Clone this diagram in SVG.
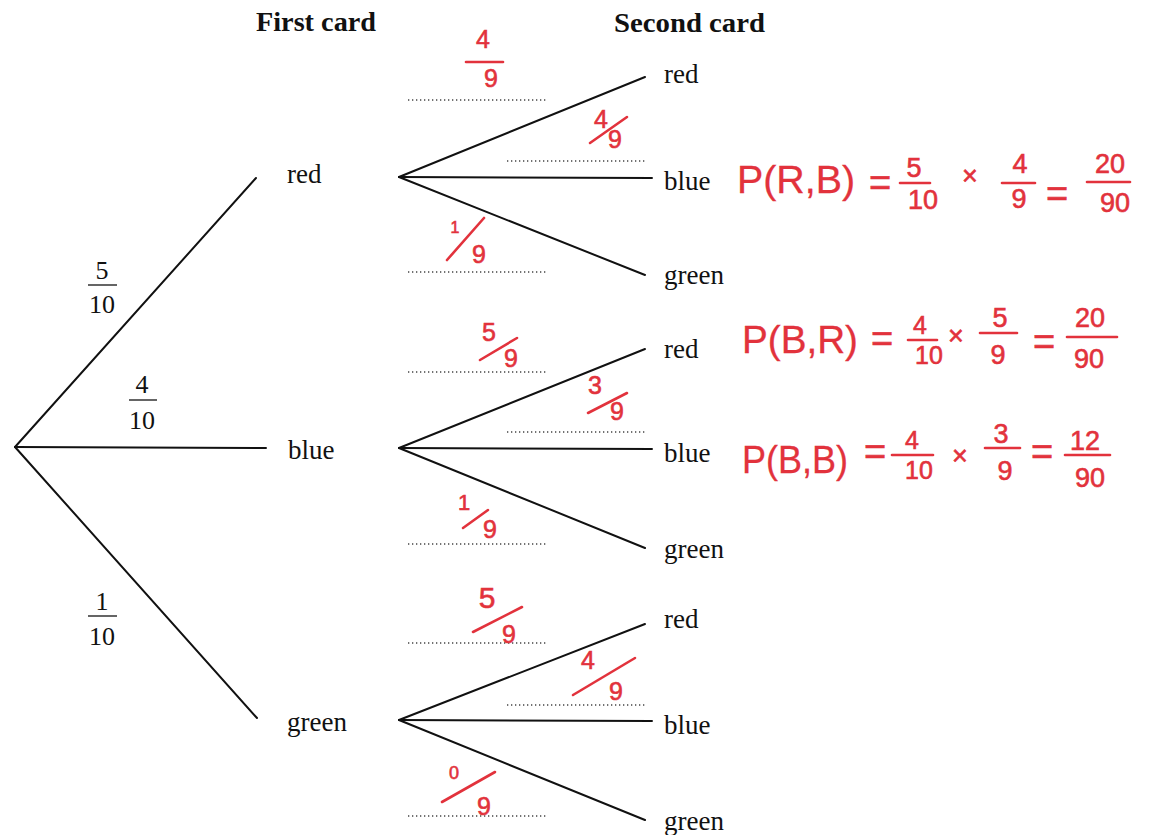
<svg xmlns="http://www.w3.org/2000/svg" width="1152" height="835" viewBox="0 0 1152 835">
<style>
.lbl{font-family:"Liberation Serif","Times New Roman",serif;font-size:27px;fill:#111}
.hdr{font-family:"Liberation Serif","Times New Roman",serif;font-size:28px;font-weight:bold;fill:#111}
.fr{font-family:"Liberation Serif","Times New Roman",serif;font-size:26px;fill:#111;text-anchor:middle}
.br{stroke:#111;stroke-width:2;fill:none;stroke-linecap:round}
.bar{stroke:#111;stroke-width:1.3}
.dot{stroke:#444;stroke-width:1.3;stroke-dasharray:1.3 2.7}
.hw{font-family:"Liberation Sans","Arial",sans-serif;fill:#e2323c;stroke:#e2323c;stroke-width:0.6;text-anchor:middle}
.d{font-size:25px}
.e{font-size:27px}
.q{font-size:38px}
.p{font-size:38px;text-anchor:start;stroke-width:0.3}
.rl{stroke:#e2323c;stroke-width:2.6;stroke-linecap:round}
</style>
<rect width="1152" height="835" fill="#fff"/>

<g id="headers">
<text class="hdr" x="256" y="31" textLength="120" lengthAdjust="spacingAndGlyphs">First card</text>
<text class="hdr" x="614" y="32" textLength="151" lengthAdjust="spacingAndGlyphs">Second card</text>
</g>

<g id="connectors">
<line class="br" x1="15" y1="447" x2="256" y2="178"/>
<line class="br" x1="15" y1="447" x2="266" y2="448"/>
<line class="br" x1="15" y1="447" x2="257" y2="718"/>
<line class="br" x1="399" y1="177" x2="645" y2="77"/>
<line class="br" x1="399" y1="177" x2="652" y2="178"/>
<line class="br" x1="399" y1="177" x2="645" y2="275"/>
<line class="br" x1="399" y1="448" x2="645" y2="349"/>
<line class="br" x1="399" y1="448" x2="652" y2="449"/>
<line class="br" x1="399" y1="448" x2="645" y2="548"/>
<line class="br" x1="399" y1="720" x2="645" y2="624"/>
<line class="br" x1="399" y1="720" x2="652" y2="721"/>
<line class="br" x1="399" y1="720" x2="645" y2="820"/>
</g>

<g id="first-probs">
<text class="fr" x="102" y="279">5</text><line class="bar" x1="88" y1="285" x2="117" y2="285"/><text class="fr" x="102" y="313">10</text>
<text class="fr" x="142" y="393">4</text><line class="bar" x1="129" y1="400" x2="157" y2="400"/><text class="fr" x="142" y="429">10</text>
<text class="fr" x="102" y="610">1</text><line class="bar" x1="88" y1="616" x2="117" y2="616"/><text class="fr" x="102" y="645">10</text>
</g>

<g id="node-red1"><text class="lbl" x="287" y="183">red</text></g>
<g id="node-blue1"><text class="lbl" x="288" y="459">blue</text></g>
<g id="node-green1"><text class="lbl" x="287" y="731">green</text></g>

<g id="node-rr"><text class="lbl" x="664" y="83">red</text></g>
<g id="node-rb"><text class="lbl" x="664" y="190">blue</text></g>
<g id="node-rg"><text class="lbl" x="664" y="284">green</text></g>
<g id="node-br"><text class="lbl" x="664" y="358">red</text></g>
<g id="node-bb"><text class="lbl" x="664" y="462">blue</text></g>
<g id="node-bg"><text class="lbl" x="664" y="558">green</text></g>
<g id="node-gr"><text class="lbl" x="664" y="628">red</text></g>
<g id="node-gb"><text class="lbl" x="664" y="734">blue</text></g>
<g id="node-gg"><text class="lbl" x="664" y="830">green</text></g>

<g id="dotted-answers">
<line class="dot" x1="408" y1="100" x2="547" y2="100"/>
<line class="dot" x1="507" y1="161" x2="645" y2="161"/>
<line class="dot" x1="408" y1="272" x2="547" y2="272"/>
<line class="dot" x1="408" y1="372" x2="547" y2="372"/>
<line class="dot" x1="507" y1="432" x2="645" y2="432"/>
<line class="dot" x1="408" y1="544" x2="547" y2="544"/>
<line class="dot" x1="408" y1="643" x2="547" y2="643"/>
<line class="dot" x1="507" y1="705" x2="645" y2="705"/>
<line class="dot" x1="408" y1="816" x2="547" y2="816"/>
</g>

<g id="second-probs">
<text class="hw d" x="483" y="48">4</text><line class="rl" x1="466" y1="62" x2="503" y2="62"/><text class="hw d" x="491" y="87">9</text>
<text class="hw d" x="601" y="128">4</text><line class="rl" x1="590" y1="143" x2="627" y2="117"/><text class="hw d" x="615" y="148">9</text>
<text class="hw d" x="455" y="233" style="font-size:16px">1</text><line class="rl" x1="447" y1="260" x2="484" y2="218"/><text class="hw d" x="479" y="263">9</text>
<text class="hw d" x="489" y="341">5</text><line class="rl" x1="480" y1="360" x2="517" y2="338"/><text class="hw d" x="511" y="367">9</text>
<text class="hw d" x="595" y="394">3</text><line class="rl" x1="588" y1="413" x2="627" y2="393"/><text class="hw d" x="617" y="420">9</text>
<text class="hw d" x="464" y="510" style="font-size:22px">1</text><line class="rl" x1="463" y1="528" x2="488" y2="510"/><text class="hw d" x="490" y="538">9</text>
<text class="hw d" x="487" y="608" style="font-size:30px">5</text><line class="rl" x1="473" y1="632" x2="522" y2="607"/><text class="hw d" x="509" y="643">9</text>
<text class="hw d" x="588" y="669">4</text><line class="rl" x1="573" y1="695" x2="635" y2="658"/><text class="hw d" x="616" y="700">9</text>
<text class="hw d" x="454" y="779" style="font-size:18px">0</text><line class="rl" x1="442" y1="802" x2="495" y2="772"/><text class="hw d" x="484" y="815">9</text>
</g>

<g id="eq-RB">
<text class="hw p" x="737" y="193" textLength="118" lengthAdjust="spacingAndGlyphs">P(R,B)</text>
<text class="hw q" x="880" y="196">=</text>
<text class="hw e" x="914" y="177">5</text><line class="rl" x1="900" y1="183" x2="930" y2="183"/><text class="hw e" x="923" y="209">10</text>
<text class="hw e" x="970" y="185">×</text>
<text class="hw e" x="1020" y="173">4</text><line class="rl" x1="1002" y1="183" x2="1035" y2="183"/><text class="hw e" x="1019" y="208">9</text>
<text class="hw q" x="1057" y="207">=</text>
<text class="hw e" x="1110" y="173">20</text><line class="rl" x1="1087" y1="182" x2="1130" y2="182"/><text class="hw e" x="1115" y="212">90</text>
</g>

<g id="eq-BR">
<text class="hw p" x="742" y="353" textLength="116" lengthAdjust="spacingAndGlyphs">P(B,R)</text>
<text class="hw q" x="882" y="352">=</text>
<text class="hw e" x="920" y="334" style="font-size:25px">4</text><line class="rl" x1="908" y1="340" x2="937" y2="340"/><text class="hw e" x="929" y="364" style="font-size:25px">10</text>
<text class="hw e" x="956" y="345">×</text>
<text class="hw e" x="1000" y="327">5</text><line class="rl" x1="980" y1="333" x2="1017" y2="333"/><text class="hw e" x="998" y="364">9</text>
<text class="hw q" x="1044" y="355">=</text>
<text class="hw e" x="1090" y="327">20</text><line class="rl" x1="1067" y1="337" x2="1117" y2="337"/><text class="hw e" x="1089" y="368">90</text>
</g>

<g id="eq-BB">
<text class="hw p" x="742" y="473" textLength="106" lengthAdjust="spacingAndGlyphs">P(B,B)</text>
<text class="hw q" x="875" y="465">=</text>
<text class="hw e" x="912" y="449" style="font-size:25px">4</text><line class="rl" x1="892" y1="455" x2="933" y2="455"/><text class="hw e" x="919" y="479" style="font-size:25px">10</text>
<text class="hw e" x="960" y="465">×</text>
<text class="hw e" x="1001" y="443">3</text><line class="rl" x1="985" y1="448" x2="1020" y2="448"/><text class="hw e" x="1005" y="480">9</text>
<text class="hw q" x="1042" y="465">=</text>
<text class="hw e" x="1085" y="450">12</text><line class="rl" x1="1065" y1="455" x2="1110" y2="455"/><text class="hw e" x="1090" y="487">90</text>
</g>
</svg>
